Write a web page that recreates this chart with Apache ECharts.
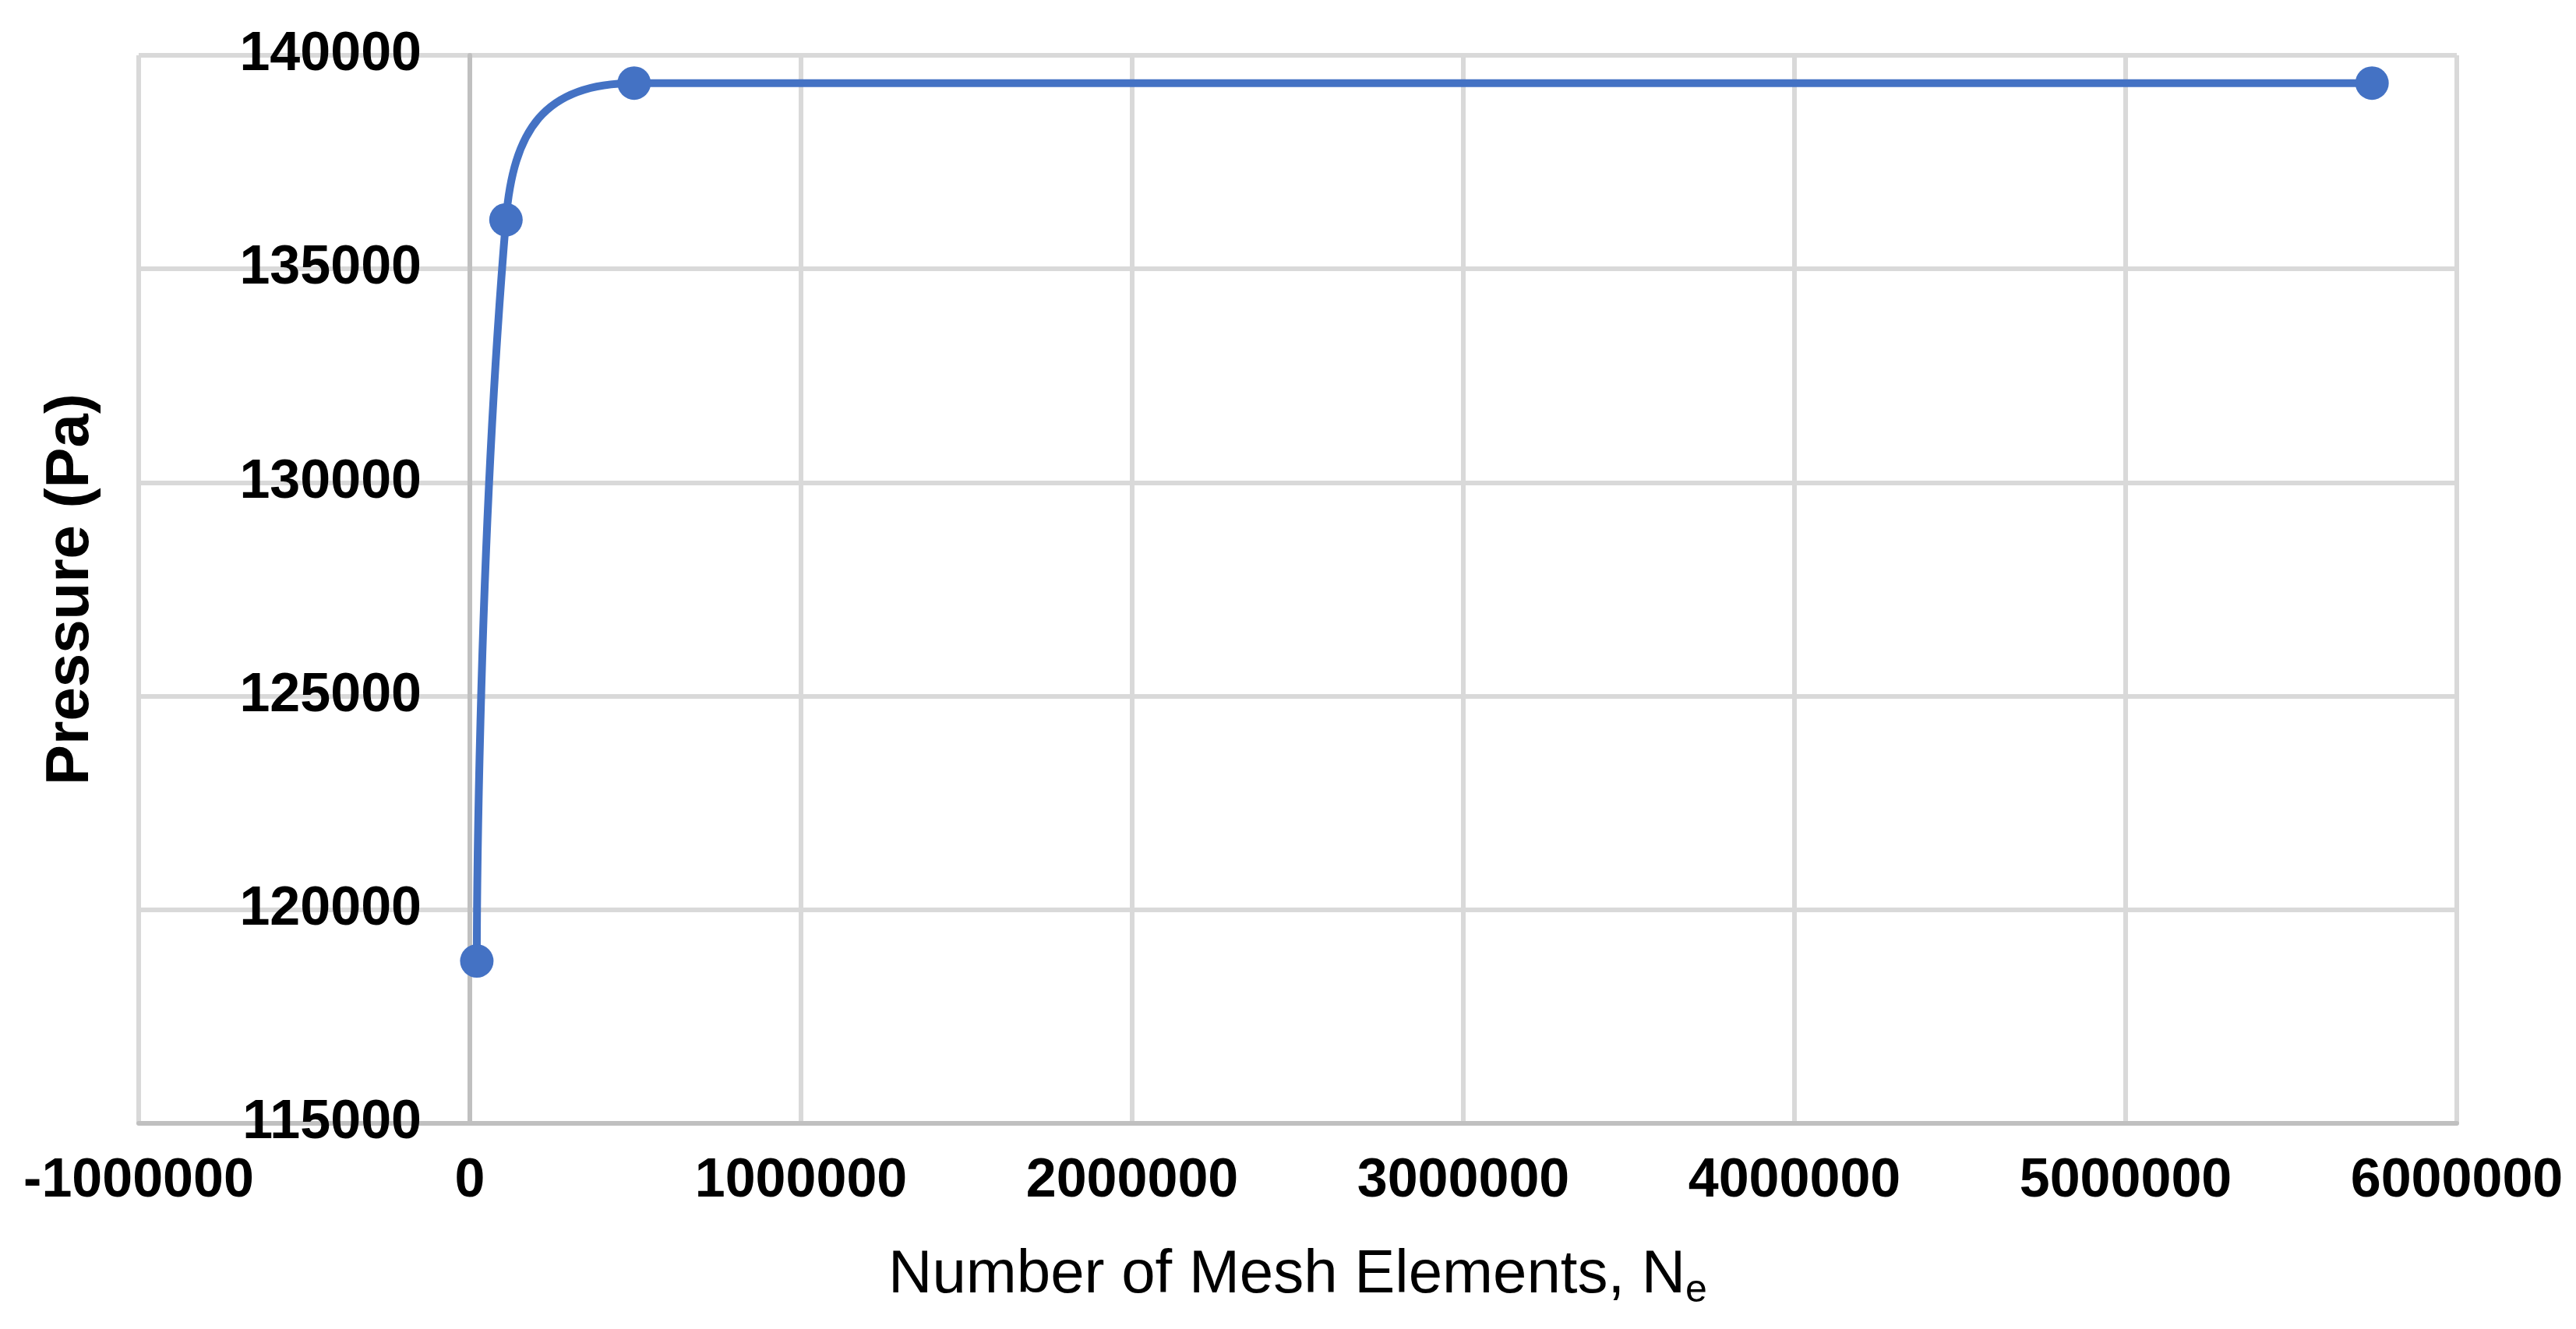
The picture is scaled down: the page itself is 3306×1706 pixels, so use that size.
<!DOCTYPE html>
<html>
<head>
<meta charset="utf-8">
<script src="https://cdn.jsdelivr.net/npm/echarts@6/dist/echarts.min.js"></script>
<style>
html,body{margin:0;padding:0;background:#fff;}
#chart{width:3306px;height:1706px;}
</style>
</head>
<body>
<div id="chart"></div>
<script>
// Data
const meshElements = [21000, 109000, 496000, 5744000];
const pressure = [118800, 136150, 139350, 139350];
const xTicks = [-1000000, 0, 1000000, 2000000, 3000000, 4000000, 5000000, 6000000];
const yTicks = [115000, 120000, 125000, 130000, 135000, 140000];

const seriesData = meshElements.map((x, i) => [x, pressure[i]]);

const chart = echarts.init(document.getElementById('chart'));
const FONT = '"Liberation Sans", Arial, sans-serif';
const plain = v => String(v);
chart.setOption({
  backgroundColor: '#ffffff',
  animation: false,
  grid: { left: 178, right: 153, top: 71, bottom: 264, containLabel: false, outerBoundsMode: 'none' },
  xAxis: {
    type: 'value',
    min: xTicks[0],
    max: xTicks[xTicks.length - 1],
    interval: 1000000,
    name: '{a|Number of Mesh Elements, N}{sub|e}',
    nameLocation: 'middle',
    nameGap: 150,
    nameTextStyle: {
      rich: {
        a: { fontFamily: FONT, fontSize: 78, color: '#000', lineHeight: 90 },
        sub: { fontFamily: FONT, fontSize: 50, color: '#000', lineHeight: 90, padding: [40, 0, 0, 0] }
      }
    },
    axisLine: { show: true, onZero: false, lineStyle: { color: '#c0c0c0', width: 6 } },
    axisTick: { show: false },
    axisLabel: { fontFamily: FONT, fontSize: 70, fontWeight: 'bold', color: '#000', margin: 40, formatter: plain },
    splitLine: { show: true, lineStyle: { color: '#d9d9d9', width: 6 } }
  },
  yAxis: {
    type: 'value',
    min: yTicks[0],
    max: yTicks[yTicks.length - 1],
    interval: 5000,
    offset: -425,
    name: 'Pressure (Pa)',
    nameLocation: 'middle',
    nameRotate: 90,
    nameGap: 473,
    nameTextStyle: { fontFamily: FONT, fontSize: 78, fontWeight: 'bold', color: '#000' },
    axisLine: { show: true, onZero: false, lineStyle: { color: '#c0c0c0', width: 6 } },
    axisTick: { show: false },
    axisLabel: { fontFamily: FONT, fontSize: 70, fontWeight: 'bold', color: '#000', margin: 62, formatter: plain },
    splitLine: { show: true, lineStyle: { color: '#d9d9d9', width: 6 } }
  },
  series: [{
    type: 'line',
    data: seriesData,
    smooth: 0.5,
    symbol: 'circle',
    symbolSize: 43,
    showSymbol: true,
    lineStyle: { color: '#4472C4', width: 10 },
    itemStyle: { color: '#4472C4' }
  }]
});
</script>
</body>
</html>
